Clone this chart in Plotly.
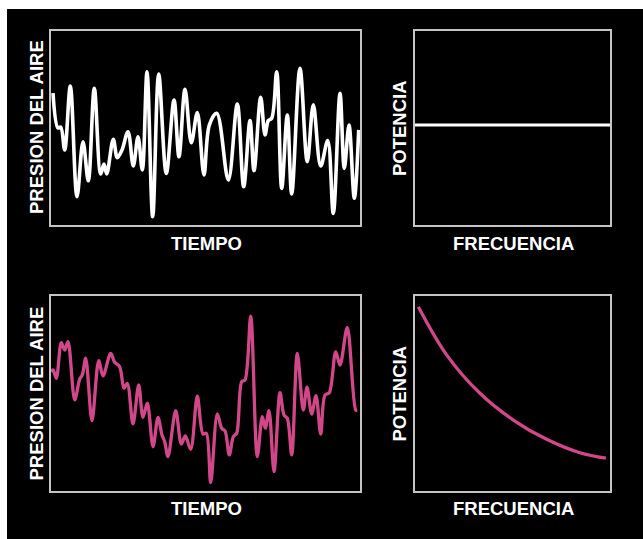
import plotly.graph_objects as go

# ---------------- data ----------------
# Top-left: white pressure signal (time 0-100, pressure 0-100)
white_time = [0.65, 2.27, 3.14, 4.43, 6.25, 8.41, 10.36, 12.07, 14.01, 16.08, 17.15, 18.03,
              20.16, 21.46, 22.98, 24.92, 26.63, 28.16, 29.55, 31.07, 32.91, 34.85, 37.31,
              39.81, 41.42, 43.37, 45.40, 47.35, 49.5, 51.23, 53.62, 57.38, 60.29, 62.36,
              64.40, 65.70, 67.86, 69.26, 70.32, 71.42, 73.04, 74.66, 76.47, 77.90, 80.58,
              82.94, 84.89, 87.28, 89.55, 91.36, 93.53, 94.92, 96.44, 98.16, 99.58]
white_pressure = [68.0, 50.0, 50.5, 38.7, 71.6, 14.6, 42.9, 22.8, 70.5, 26.3, 31.4, 26.3,
                  44.2, 34.7, 38.7, 48.1, 30.4, 45.5, 28.4, 79.0, 4.3, 77.8, 26.6,
                  64.4, 35.2, 69.9, 42.4, 57.9, 25.8, 51.5, 57.6, 23.2, 62.4, 19.7,
                  53.8, 28.0, 65.8, 46.4, 53.8, 55.0, 79.0, 18.9, 56.7, 16.0, 80.8,
                  32.6, 61.9, 30.4, 43.5, 6.0, 67.9, 29.2, 51.5, 13.8, 49.0]

# Top-right: flat (white) spectrum
white_freq = [0, 100]
white_power = [51.5, 51.5]

# Bottom-left: pink pressure signal
pink_time = [0.0, 0.65, 1.72, 3.33, 4.43, 5.50, 7.67, 9.29, 10.13, 11.23, 13.27, 15.44,
             16.83, 19.32, 20.61, 22.23, 23.62, 24.69, 26.54, 28.38, 29.77, 31.17, 33.01,
             34.63, 35.92, 36.80, 37.86, 40.36, 42.17, 43.46, 45.21, 47.35, 49.19, 50.26,
             51.68, 53.82, 55.24, 56.31, 57.70, 59.00, 60.10, 61.72, 62.78, 64.63, 66.76,
             68.38, 69.35, 70.55, 72.17, 74.11, 75.40, 76.47, 77.90, 79.71, 81.65, 82.85,
             84.37, 85.76, 87.28, 88.67, 90.06, 92.14, 93.53, 95.89, 98.61, 99.13]
pink_pressure = [61.2, 62.1, 57.8, 76.1, 72.3, 76.6, 46.7, 57.4, 59.5, 68.1, 36.1, 66.8,
                 59.0, 70.6, 66.0, 63.7, 52.7, 55.2, 34.4, 54.4, 37.8, 45.0, 22.7,
                 37.8, 28.7, 25.3, 17.6, 41.2, 24.1, 28.2, 21.4, 48.7, 29.2, 29.6,
                 4.3, 39.5, 32.2, 30.9, 18.5, 27.8, 29.6, 56.1, 56.9, 89.7, 17.6,
                 38.1, 32.2, 41.2, 9.9, 50.4, 39.0, 37.3, 18.5, 70.6, 41.5, 53.2,
                 39.5, 48.9, 29.2, 49.2, 50.4, 71.4, 64.6, 83.9, 41.5, 41.2]

# Bottom-right: 1/f (pink) spectrum
pink_freq = [1.7, 16.3, 33.3, 50.4, 67.5, 84.6, 97.9]
pink_power = [94.5, 69.7, 50.1, 36.4, 26.5, 19.6, 16.8]

x_title = "TIEMPO"
x_title_r = "FRECUENCIA"
y_title = "PRESION DEL AIRE"
y_title_r = "POTENCIA"

# ---------------- layout ----------------
W, H = 643, 539
WHITE = "#ffffff"
PINK = "#d2478a"
BOX = "#c4c4c4"
FONT = "Liberation Sans, Arial, Helvetica, sans-serif"


def px_x(p):
    return p / W


def px_y(p):
    return 1 - p / H


left_dom = [px_x(51), px_x(360)]
right_dom = [px_x(415), px_x(610)]
top_dom = [px_y(225), px_y(31)]
bot_dom = [px_y(491), px_y(296)]

fig = go.Figure()

fig.add_trace(go.Scatter(x=white_time, y=white_pressure, mode="lines",
                         line=dict(color=WHITE, width=3.6, shape="spline", smoothing=1.0),
                         xaxis="x", yaxis="y", hoverinfo="skip"))
fig.add_trace(go.Scatter(x=white_freq, y=white_power, mode="lines",
                         line=dict(color=WHITE, width=3),
                         xaxis="x2", yaxis="y2", hoverinfo="skip"))
fig.add_trace(go.Scatter(x=pink_time, y=pink_pressure, mode="lines",
                         line=dict(color=PINK, width=3.3, shape="spline", smoothing=0.9),
                         xaxis="x3", yaxis="y3", hoverinfo="skip"))
fig.add_trace(go.Scatter(x=pink_freq, y=pink_power, mode="lines",
                         line=dict(color=PINK, width=3.3, shape="spline", smoothing=1.0),
                         xaxis="x4", yaxis="y4", hoverinfo="skip"))

ax_common = dict(showgrid=False, zeroline=False, showticklabels=False, ticks="",
                 showline=True, mirror=True, linecolor=BOX, linewidth=1.5,
                 range=[0, 100], fixedrange=True)

layout = dict(
    width=W, height=H,
    margin=dict(l=0, r=0, t=0, b=0),
    paper_bgcolor="white", plot_bgcolor="black",
    showlegend=False,
    xaxis=dict(domain=left_dom, anchor="y", **ax_common),
    yaxis=dict(domain=top_dom, anchor="x", **ax_common),
    xaxis2=dict(domain=right_dom, anchor="y2", **ax_common),
    yaxis2=dict(domain=top_dom, anchor="x2", **ax_common),
    xaxis3=dict(domain=left_dom, anchor="y3", **ax_common),
    yaxis3=dict(domain=bot_dom, anchor="x3", **ax_common),
    xaxis4=dict(domain=right_dom, anchor="y4", **ax_common),
    yaxis4=dict(domain=bot_dom, anchor="x4", **ax_common),
)
fig.update_layout(**layout)

# black background panel (white margin on top and left)
fig.add_shape(type="rect", xref="paper", yref="paper",
              x0=px_x(7), x1=1.01, y0=-0.01, y1=px_y(9),
              fillcolor="black", line=dict(width=0), layer="below")

lab_font = dict(family=FONT, size=18.5, color="white", weight="bold")


def label(text, x, y, angle=0):
    fig.add_annotation(text=text, xref="paper", yref="paper",
                       x=px_x(x), y=px_y(y), xanchor="center", yanchor="middle",
                       showarrow=False, textangle=angle, font=lab_font)


label(x_title, 206, 243)
label(x_title_r, 513, 243.5)
label(x_title, 206, 508.5)
label(x_title_r, 513, 508.5)
label(y_title, 36, 127, -90)
label(y_title_r, 399, 128, -90)
label(y_title, 36, 393.5, -90)
label(y_title_r, 399, 393.5, -90)

fig.write_html(
    "out.html",
    config={"displayModeBar": False},
    post_script="document.body.style.margin='0';document.body.style.overflow='hidden';",
)
